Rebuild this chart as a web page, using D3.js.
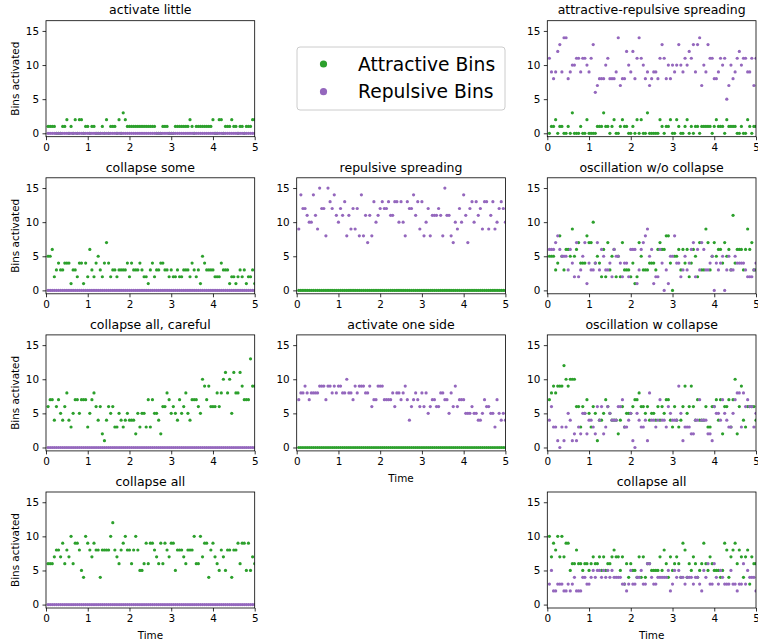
<!DOCTYPE html>
<html>
<head>
<meta charset="utf-8">
<script src="https://cdn.jsdelivr.net/npm/d3@7"></script>
<style>
  body { margin: 0; background: #fff; }
  svg { display: block; font-family: "DejaVu Sans", sans-serif; }
</style>
</head>
<body>
<div id="chart"></div>
<script>
// sampling step of the simulation (time axis)
const dt = 0.05;
const xTicks = [0, 1, 2, 3, 4, 5];
const yTicks = [0, 5, 10, 15];
const legendLabels = ["Attractive Bins", "Repulsive Bins"];

const zeroBins = [
  0,0,0,0,0,0,0,0,0,0, 0,0,0,0,0,0,0,0,0,0, 0,0,0,0,0,0,0,0,0,0, 0,0,0,0,0,0,0,0,0,0,
  0,0,0,0,0,0,0,0,0,0, 0,0,0,0,0,0,0,0,0,0, 0,0,0,0,0,0,0,0,0,0, 0,0,0,0,0,0,0,0,0,0,
  0,0,0,0,0,0,0,0,0,0, 0,0,0,0,0,0,0,0,0,0
];

const activateLittleAttr = [
  1,1,1,1,0,0,0,1,1,2, 0,1,0,2,0,2,2,0,1,1, 0,1,1,0,0,0,1,0,2,0, 1,1,1,0,2,0,3,2,1,1,
  1,1,1,1,1,1,1,1,1,1, 1,1,0,0,0,1,1,1,0,0, 0,1,1,1,1,1,1,1,2,1, 0,1,1,1,1,1,1,1,1,2,
  0,0,2,2,0,1,1,1,2,1, 1,0,1,1,0,1,1,1,2,2
];

const arSpreadAttr = [
  0,1,1,2,0,1,1,0,0,1, 0,3,0,0,0,1,0,0,2,0, 0,0,0,1,1,1,3,1,1,0, 1,2,0,0,1,2,1,1,0,0,
  1,0,2,0,2,0,0,3,0,0, 0,0,0,2,1,0,1,1,2,0, 0,2,1,0,0,1,2,0,1,0, 1,1,0,1,1,1,1,1,0,1,
  2,1,1,1,0,2,1,1,1,1, 0,0,1,0,0,2,1,0,1,1
];
const arSpreadRep = [
  11,9,8,9,12,13,9,14,14,8, 9,10,10,11,11,9,11,11,10,9, 11,13,6,7,8,8,8,10,11,8,
  8,8,9,14,7,8,8,12,10,9, 12,8,11,14,11,10,8,9,7,8, 9,9,8,11,13,11,8,10,8,10,
  9,10,13,10,9,11,10,12,11,13, 9,13,14,7,10,9,13,11,11,8, 8,9,11,10,11,5,7,10,8,9,
  11,12,10,11,11,9,9,11,7,11
];

const collapseSomeAttr = [
  5,5,6,2,3,4,3,3,4,4, 4,1,3,3,2,4,4,1,4,2, 6,3,2,4,5,3,2,4,7,4, 2,3,3,2,3,3,3,3,4,2,
  4,3,3,3,4,3,2,2,1,3, 4,2,3,3,4,4,3,3,2,3, 2,2,3,2,2,3,3,3,2,4, 3,2,3,1,5,4,3,3,3,3,
  2,2,2,4,3,3,3,1,2,2, 1,2,3,2,3,1,2,2,3,1
];

const repSpreadRep = [
  9,14,12,12,11,10,10,14,11,9, 15,12,12,8,15,13,12,14,11,10, 12,11,13,8,11,9,12,9,12,8,
  14,8,11,7,11,8,13,10,11,12, 13,12,12,13,11,11,13,13,10,13, 10,8,13,12,12,14,11,13,9,13,
  8,10,12,8,11,11,11,12,11,8, 15,11,11,8,7,10,9,12,10,14, 11,7,12,13,10,13,11,12,9,13,
  13,9,11,13,9,10,12,13,12,10
];

const oscNoCollapseAttr = [
  5,5,5,3,4,8,5,3,6,6, 5,9,5,6,7,4,4,4,8,7, 7,10,4,5,4,2,6,2,7,3, 5,6,2,5,2,7,3,3,3,2,
  4,1,2,7,5,3,3,3,4,4, 4,3,6,7,6,6,8,8,4,0, 5,5,6,3,6,4,6,2,4,6, 5,2,7,3,3,9,7,3,5,7,
  5,6,6,4,7,5,6,3,11,4, 6,6,6,3,6,9,6,7,3,3
];
const oscNoCollapseRep = [
  6,6,6,7,8,6,5,5,5,3, 6,4,2,7,2,3,5,7,1,4, 3,3,4,7,3,6,5,3,3,4, 2,6,5,5,4,2,4,4,2,6,
  6,6,1,3,6,7,8,9,5,6, 1,2,2,6,4,0,3,1,5,5, 8,4,4,2,3,5,3,4,6,7, 2,6,3,7,6,3,3,4,5,0,
  4,3,4,5,0,3,5,3,3,5, 4,4,4,4,3,2,2,2,3,4
];

const collapseCarefulAttr = [
  6,7,7,4,6,7,5,4,6,8, 4,3,5,7,7,5,7,7,7,3, 5,7,8,6,4,6,2,1,4,6, 5,6,3,3,5,4,3,4,5,4,
  4,4,2,5,3,5,5,3,7,3, 7,5,5,4,2,6,6,8,7,5, 6,5,4,7,5,6,8,5,4,7, 7,7,6,5,10,9,7,9,6,6,
  6,8,6,8,10,11,8,10,5,11, 8,8,11,9,7,7,7,13,9,9
];

const oneSideRep = [
  7,8,8,9,8,7,8,8,8,8, 9,9,9,7,9,9,8,9,8,9, 9,8,8,10,8,8,7,9,8,9, 9,9,8,8,9,6,7,7,9,9,
  9,7,7,7,7,8,6,8,8,7, 8,9,7,4,6,7,8,7,6,8, 6,8,5,6,7,7,6,6,8,8, 7,7,5,8,6,9,6,7,7,7,
  5,5,5,6,5,5,4,4,5,7, 6,6,5,5,3,7,5,4,5,4
];

const oscCollapseAttr = [
  7,8,9,8,9,9,9,12,10,9, 10,10,10,6,6,3,6,5,7,5, 3,6,5,1,4,4,5,7,6,5, 4,4,4,2,4,6,3,5,5,5,
  6,7,7,8,6,6,5,6,4,5, 5,4,6,4,6,5,7,7,4,3, 6,4,3,4,6,9,5,6,9,6, 4,7,4,4,4,6,3,3,6,6,
  7,4,7,2,6,6,7,3,7,10, 2,6,9,4,3,6,6,6,6,4
];
const oscCollapseRep = [
  4,6,3,3,1,0,3,1,3,5, 4,1,2,1,3,2,5,5,2,4, 4,3,2,6,4,6,2,3,6,5, 4,4,4,6,6,7,3,3,4,5,
  1,0,5,4,3,3,4,1,8,4, 4,3,4,7,4,4,3,6,5,4, 4,4,9,5,1,3,3,3,2,2, 4,4,7,4,4,4,2,2,1,6,
  5,5,4,7,5,4,3,3,5,7, 8,8,3,8,6,7,6,6,3,5
];

const collapseAllAttrA = [
  6,6,6,7,8,8,7,9,6,8, 7,10,6,9,9,8,5,4,10,9, 8,7,9,8,8,4,8,8,8,8, 10,12,8,7,6,8,9,10,8,8,
  6,8,10,8,5,5,6,9,6,9, 9,8,7,6,9,6,9,8,7,9, 9,5,8,8,8,7,6,8,8,8, 10,6,6,10,7,9,9,4,8,9,
  7,6,5,8,7,5,8,8,4,8, 8,9,6,9,9,5,9,5,7,6
];

const collapseAllAttrB = [
  10,7,9,8,10,7,10,7,9,9, 5,6,6,8,6,6,5,6,6,5, 6,7,6,6,7,5,7,5,6,6, 7,8,7,7,5,7,3,6,4,6,
  5,5,4,7,4,7,4,6,6,5, 5,5,5,7,5,8,6,4,7,5, 6,7,6,4,9,8,4,6,5,7, 6,4,5,6,9,6,5,7,6,5,
  5,5,4,5,9,8,4,7,8,9, 6,8,7,4,7,8,3,7,6,6
];
const collapseAllRepB = [
  3,5,2,2,3,3,3,2,2,3, 2,3,4,2,2,2,4,4,3,3, 4,5,4,5,5,4,5,4,5,4, 5,4,4,4,4,3,3,2,3,5,
  3,3,4,4,5,3,3,6,6,4, 3,3,4,4,4,4,4,5,2,3, 5,4,5,4,4,3,4,4,4,3, 4,4,3,2,5,4,6,3,3,6,
  4,3,5,4,3,3,3,5,3,3, 2,3,3,6,3,5,4,4,4,2
];

const panels = [
  { title: "activate little", attr: activateLittleAttr, rep: zeroBins, row: 0, col: 0 },
  { title: "attractive-repulsive spreading", attr: arSpreadAttr, rep: arSpreadRep, row: 0, col: 2 },
  { title: "collapse some", attr: collapseSomeAttr, rep: zeroBins, row: 1, col: 0 },
  { title: "repulsive spreading", attr: zeroBins, rep: repSpreadRep, row: 1, col: 1 },
  { title: "oscillation w/o collapse", attr: oscNoCollapseAttr, rep: oscNoCollapseRep, row: 1, col: 2 },
  { title: "collapse all, careful", attr: collapseCarefulAttr, rep: zeroBins, row: 2, col: 0 },
  { title: "activate one side", attr: zeroBins, rep: oneSideRep, row: 2, col: 1, xlabel: true },
  { title: "oscillation w collapse", attr: oscCollapseAttr, rep: oscCollapseRep, row: 2, col: 2 },
  { title: "collapse all", attr: collapseAllAttrA, rep: zeroBins, row: 3, col: 0, xlabel: true },
  { title: "collapse all", attr: collapseAllAttrB, rep: collapseAllRepB, row: 3, col: 2, xlabel: true }
];

const attrColor = "#2ca02c",
    repColor = "#9467bd";

const width = 758, height = 644;
const colX = [46, 296.7, 547.3],
    rowY = [20.7, 177.8, 334.9, 492],
    panelW = 208.7,
    panelH = 116;

const svg = d3.select("#chart")
  .append("svg")
  .attr("width", width)
  .attr("height", height);

const x = d3.scaleLinear().domain([0, 5]).range([0, panelW]);
const y = d3.scaleLinear().domain([-0.5, 16.5]).range([panelH, 0]);

panels.forEach((p, i) => {
  const g = svg.append("g")
    .attr("transform", `translate(${colX[p.col]},${rowY[p.row]})`);

  g.append("clipPath")
    .attr("id", "clip" + i)
    .append("rect")
    .attr("width", panelW)
    .attr("height", panelH);

  const dots = g.append("g").attr("clip-path", `url(#clip${i})`);

  dots.selectAll(".attr")
    .data(p.attr)
    .join("circle")
    .attr("class", "attr")
    .attr("cx", (d, k) => x((k + 1) * dt))
    .attr("cy", (d) => y(d))
    .attr("r", 1.6)
    .attr("fill", attrColor);

  dots.selectAll(".rep")
    .data(p.rep)
    .join("circle")
    .attr("class", "rep")
    .attr("cx", (d, k) => x((k + 1) * dt))
    .attr("cy", (d) => y(d))
    .attr("r", 1.6)
    .attr("fill", repColor);

  // axes
  const xAxis = g.append("g")
    .attr("transform", `translate(0,${panelH})`)
    .call(d3.axisBottom(x).tickValues(xTicks).tickFormat(d3.format("d")).tickSize(3.5).tickPadding(3.5));
  const yAxis = g.append("g")
    .call(d3.axisLeft(y).tickValues(yTicks).tickFormat(d3.format("d")).tickSize(3.5).tickPadding(3.5));

  [xAxis, yAxis].forEach((a) => {
    a.select(".domain").remove();
    a.selectAll("line").attr("stroke", "#000").attr("stroke-width", 0.8);
    a.selectAll("text")
      .attr("fill", "#000")
      .style("font", "10.4px 'DejaVu Sans', sans-serif");
  });

  g.append("rect")
    .attr("width", panelW)
    .attr("height", panelH)
    .attr("fill", "none")
    .attr("stroke", "#000")
    .attr("stroke-width", 0.8);

  g.append("text")
    .attr("x", panelW / 2)
    .attr("y", -6.3)
    .attr("text-anchor", "middle")
    .style("font", "12.5px 'DejaVu Sans', sans-serif")
    .text(p.title);

  if (p.col === 0) {
    g.append("text")
      .attr("transform", `translate(${19 - colX[0]},${panelH / 2}) rotate(-90)`)
      .attr("text-anchor", "middle")
      .style("font", "10.4px 'DejaVu Sans', sans-serif")
      .text("Bins activated");
  }
  if (p.xlabel) {
    g.append("text")
      .attr("x", panelW / 2)
      .attr("y", panelH + 31)
      .attr("text-anchor", "middle")
      .style("font", "10.4px 'DejaVu Sans', sans-serif")
      .text("Time");
  }
});

// Legend
const legend = svg.append("g").attr("transform", "translate(297,47)");
legend.append("rect")
  .attr("width", 208)
  .attr("height", 63)
  .attr("rx", 3)
  .attr("fill", "#fff")
  .attr("stroke", "#cccccc")
  .attr("stroke-width", 1);

legend.selectAll("circle")
  .data(legendLabels)
  .join("circle")
  .attr("cx", 26.5)
  .attr("cy", (d, i) => 17 + i * 27.7)
  .attr("r", 3.6)
  .attr("fill", (d, i) => i === 0 ? attrColor : repColor);

legend.selectAll("text")
  .data(legendLabels)
  .join("text")
  .attr("x", 61)
  .attr("y", (d, i) => 17 + i * 27.7)
  .attr("dy", "0.36em")
  .style("font", "18.7px 'DejaVu Sans', sans-serif")
  .text((d) => d);
</script>
</body>
</html>
